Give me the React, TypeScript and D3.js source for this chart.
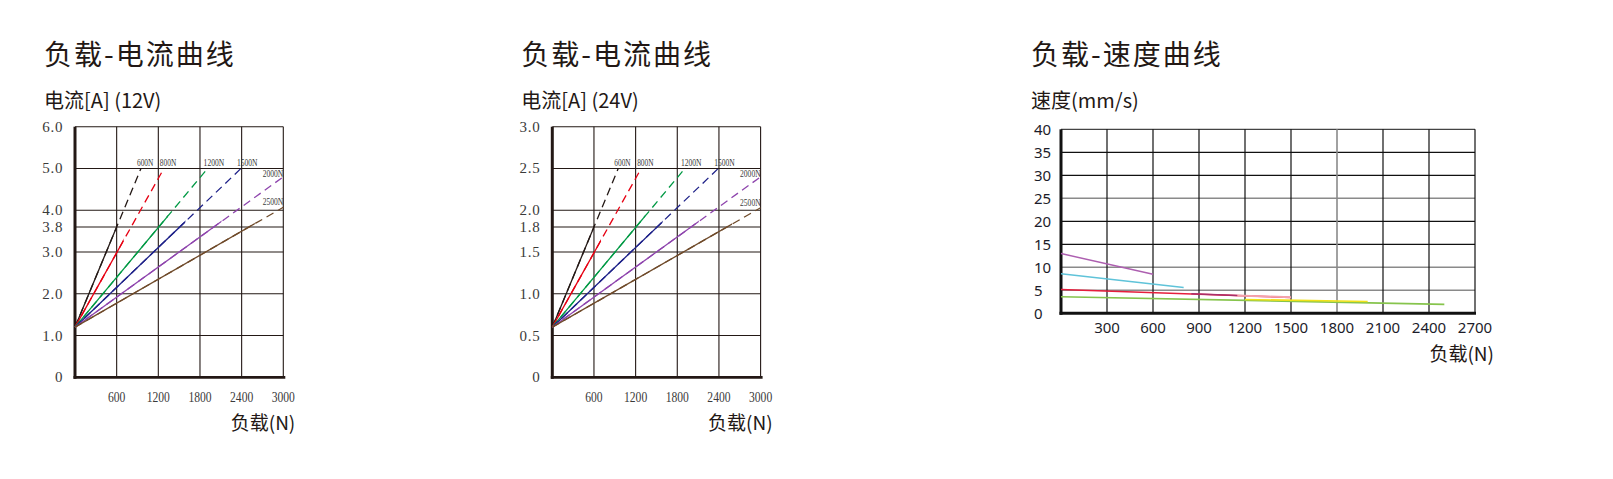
import React from "react";
import * as d3 from "d3";

// ---------- data ----------
const loadTicks = [600, 1200, 1800, 2400, 3000];
const ratedLabels = ["600N", "800N", "1200N", "1500N", "2000N", "2500N"];
const endLoads = [950, 1280, 1910, 2390, 3000, 3000];
const solidUntil = [600, 700, 1340, 1590, 2110, 2590];

const start12 = 1.2;
const endCurrents12 = [5.0, 5.0, 5.0, 5.0, 4.8, 4.07];
const yTicks12 = [0, 1, 2, 3, 3.6, 4, 5, 6];
const yLabels12 = ["0", "1.0", "2.0", "3.0", "3.8", "4.0", "5.0", "6.0"];

const start24 = 0.6;
const endCurrents24 = [2.5, 2.5, 2.5, 2.5, 2.4, 2.03];
const yTicks24 = [0, 0.5, 1, 1.5, 1.8, 2, 2.5, 3];
const yLabels24 = ["0", "0.5", "1.0", "1.5", "1.8", "2.0", "2.5", "3.0"];

const speedXTicks = [300, 600, 900, 1200, 1500, 1800, 2100, 2400, 2700];
const speedYTicks = [0, 5, 10, 15, 20, 25, 30, 35, 40];
const speedGrayY = [5, 10, 25];
const speedGrayX = [1800];

const purpleLoads = [0, 600];
const purpleSpeeds = [13.0, 8.5];
const cyanLoads = [0, 800];
const cyanSpeeds = [8.6, 5.6];
const redLoads = [0, 1500];
const redSpeeds = [5.2, 3.45];
const darkRedLoads = [850, 1150];
const darkRedSpeeds = [4.25, 3.88];
const pinkLoads = [1150, 1500];
const pinkSpeeds = [3.85, 3.5];
const greenLoads = [0, 2500];
const greenSpeeds = [3.6, 1.95];
const yellowLoads = [1200, 2000];
const yellowSpeeds = [3.0, 2.55];

// ---------- styles ----------
const currentColors = ["#231815", "#e60012", "#009944", "#1d2088", "#8e44ad", "#6f4a2a"];
const INK = "#231815";
const CJK = "'Noto Sans CJK SC', 'Noto Sans', sans-serif";
const SERIF = "'Liberation Serif', 'DejaVu Serif', serif";

type CurrentProps = {
  id: string;
  x0: number;
  title: string;
  subtitle: string;
  yMax: number;
  yTicks: number[];
  yLabels: string[];
  start: number;
  ends: number[];
};

function CurrentChart({ id, x0, title, subtitle, yMax, yTicks, yLabels, start, ends }: CurrentProps) {
  const left = x0;
  const right = x0 + 208.3;
  const top = 126.7;
  const bottom = 377.3;
  const x = d3.scaleLinear().domain([0, 3000]).range([left, right]);
  const y = d3.scaleLinear().domain([0, yMax]).range([bottom, top]);
  const line = d3
    .line<[number, number]>()
    .x((d) => x(d[0]))
    .y((d) => y(d[1]));

  return (
    <g>
      <text x={left - 31} y={53} fontFamily={CJK} fontSize={28} letterSpacing={2} fill={INK} dominantBaseline="central">
        {title}
      </text>
      <text x={left - 31} y={99} fontFamily={CJK} fontSize={20} fill={INK} dominantBaseline="central">
        {subtitle}
      </text>
      <defs>
        {solidUntil.map((s, i) => (
          <clipPath id={`${id}-clip-${i}`} key={i}>
            <rect x={left - 5} y={top - 20} width={x(s) - left + 5} height={bottom - top + 40} />
          </clipPath>
        ))}
      </defs>
      {/* grid */}
      {yTicks
        .filter((t) => t > 0)
        .map((t) => (
          <line key={"h" + t} x1={left} x2={right} y1={y(t)} y2={y(t)} stroke={INK} strokeWidth={1.1} />
        ))}
      {loadTicks.map((t) => (
        <line key={"v" + t} x1={x(t)} x2={x(t)} y1={top} y2={bottom} stroke={INK} strokeWidth={1.1} />
      ))}
      {/* axes */}
      <line x1={left} x2={left} y1={top} y2={bottom + 1.5} stroke={INK} strokeWidth={3} />
      <line x1={left - 1.5} x2={right + 2} y1={bottom} y2={bottom} stroke={INK} strokeWidth={2.8} />
      {/* tick labels */}
      {yTicks.map((t, i) => (
        <text
          key={"yl" + t}
          x={left - 11.7}
          y={y(t)}
          textAnchor="end"
          dominantBaseline="central"
          fontFamily={SERIF}
          fontSize={15}
          letterSpacing={0.8}
          fill="#3a3a3a"
        >
          {yLabels[i]}
        </text>
      ))}
      {loadTicks.map((t) => (
        <text
          key={"xl" + t}
          x={x(t)}
          y={401.7}
          textAnchor="middle"
          fontFamily={SERIF}
          fontSize={15}
          textLength={String(t).length * 5.8}
          lengthAdjust="spacingAndGlyphs"
          fill="#3a3a3a"
        >
          {t}
        </text>
      ))}
      <text x={right + 12} y={421} textAnchor="end" dominantBaseline="central" fontFamily={CJK} fontSize={19} fill={INK}>
        负载(N)
      </text>
      {/* lines */}
      {ends.map((e, i) => {
        const pts: [number, number][] = [
          [0, start],
          [endLoads[i], e],
        ];
        const d = line(pts) || "";
        return (
          <g key={"ln" + i}>
            <path d={d} fill="none" stroke={currentColors[i]} strokeWidth={1.3} strokeDasharray="8,5" />
            <path d={d} fill="none" stroke={currentColors[i]} strokeWidth={1.3} clipPath={`url(#${id}-clip-${i})`} />
          </g>
        );
      })}
      {/* rated labels */}
      {ends.map((e, i) => {
        const atRight = endLoads[i] >= 3000;
        const lbl = ratedLabels[i];
        return (
          <text
            key={"rl" + i}
            x={atRight ? x(endLoads[i]) : x(endLoads[i]) - 4}
            y={atRight ? y(e) + (i === 4 ? 0.5 : -2) : y(e) - 2.6}
            textAnchor={atRight ? "end" : "start"}
            fontFamily={SERIF}
            fontSize={10}
            textLength={lbl.length * 4.1}
            lengthAdjust="spacingAndGlyphs"
            fill="#3a3a3a"
          >
            {lbl}
          </text>
        );
      })}
    </g>
  );
}

function SpeedChart() {
  const left = 1061;
  const right = 1475;
  const top = 129.3;
  const bottom = 313.3;
  const x = d3.scaleLinear().domain([0, 2700]).range([left, right]);
  const y = d3.scaleLinear().domain([0, 40]).range([bottom, top]);
  const mk = (loads: number[], speeds: number[]) =>
    d3
      .line<number>()
      .x((d) => x(d))
      .y((_, i) => y(speeds[i]))(loads) || "";

  const series: { loads: number[]; speeds: number[]; color: string; w: number }[] = [
    { loads: purpleLoads, speeds: purpleSpeeds, color: "#ad5fb0", w: 1.4 },
    { loads: cyanLoads, speeds: cyanSpeeds, color: "#5fc3d9", w: 1.4 },
    { loads: greenLoads, speeds: greenSpeeds, color: "#86c44c", w: 1.6 },
    { loads: yellowLoads, speeds: yellowSpeeds, color: "#f1e21a", w: 1.6 },
    { loads: redLoads, speeds: redSpeeds, color: "#e61e3c", w: 1.5 },
    { loads: darkRedLoads, speeds: darkRedSpeeds, color: "#a8306a", w: 1.6 },
    { loads: pinkLoads, speeds: pinkSpeeds, color: "#f3a3ad", w: 2 },
  ];

  return (
    <g>
      <text x={1031} y={53} fontFamily={CJK} fontSize={28} letterSpacing={2} fill={INK} dominantBaseline="central">
        负载-速度曲线
      </text>
      <text x={1031} y={99} fontFamily={CJK} fontSize={20} fill={INK} dominantBaseline="central">
        速度(mm/s)
      </text>
      {speedYTicks
        .filter((t) => t > 0)
        .map((t) => {
          const gray = speedGrayY.includes(t);
          return (
            <line
              key={"h" + t}
              x1={left}
              x2={right}
              y1={y(t)}
              y2={y(t)}
              stroke={gray ? "#8a8a8a" : t === 40 ? "#444" : "#111"}
              strokeWidth={gray ? 1.6 : 1.2}
            />
          );
        })}
      {speedXTicks.map((t) => {
        const gray = speedGrayX.includes(t);
        return (
          <line
            key={"v" + t}
            x1={x(t)}
            x2={x(t)}
            y1={top}
            y2={bottom}
            stroke={gray ? "#8a8a8a" : "#111"}
            strokeWidth={gray ? 1.6 : 1.2}
          />
        );
      })}
      <line x1={left} x2={left} y1={top} y2={bottom + 1.5} stroke="#111" strokeWidth={3} />
      <line x1={left - 1.5} x2={right + 1} y1={bottom} y2={bottom} stroke="#111" strokeWidth={3} />
      {speedYTicks.map((t) => (
        <text
          key={"yl" + t}
          x={1034}
          y={y(t)}
          dominantBaseline="central"
          fontFamily="'Noto Sans', sans-serif"
          fontSize={15}
          fill="#1c1c2a"
        >
          {t}
        </text>
      ))}
      {speedXTicks.map((t) => (
        <text
          key={"xl" + t}
          x={x(t)}
          y={327}
          textAnchor="middle"
          dominantBaseline="central"
          fontFamily="'Noto Sans', sans-serif"
          fontSize={15}
          fill="#1c1c2a"
        >
          {t}
        </text>
      ))}
      <text x={right + 19} y={352} textAnchor="end" dominantBaseline="central" fontFamily={CJK} fontSize={19} fill={INK}>
        负载(N)
      </text>
      {series.map((s, i) => (
        <path key={"s" + i} d={mk(s.loads, s.speeds)} fill="none" stroke={s.color} strokeWidth={s.w} />
      ))}
    </g>
  );
}

export default function App() {
  return (
    <svg
      width={1613}
      height={479}
      viewBox="0 0 1613 479"
      style={{ position: "absolute", left: 0, top: 0, background: "#fff" }}
    >
      <rect x={0} y={0} width={1613} height={479} fill="#fff" />
      <CurrentChart
        id="c12"
        x0={75}
        title="负载-电流曲线"
        subtitle="电流[A] (12V)"
        yMax={6}
        yTicks={yTicks12}
        yLabels={yLabels12}
        start={start12}
        ends={endCurrents12}
      />
      <CurrentChart
        id="c24"
        x0={552.3}
        title="负载-电流曲线"
        subtitle="电流[A] (24V)"
        yMax={3}
        yTicks={yTicks24}
        yLabels={yLabels24}
        start={start24}
        ends={endCurrents24}
      />
      <SpeedChart />
    </svg>
  );
}
